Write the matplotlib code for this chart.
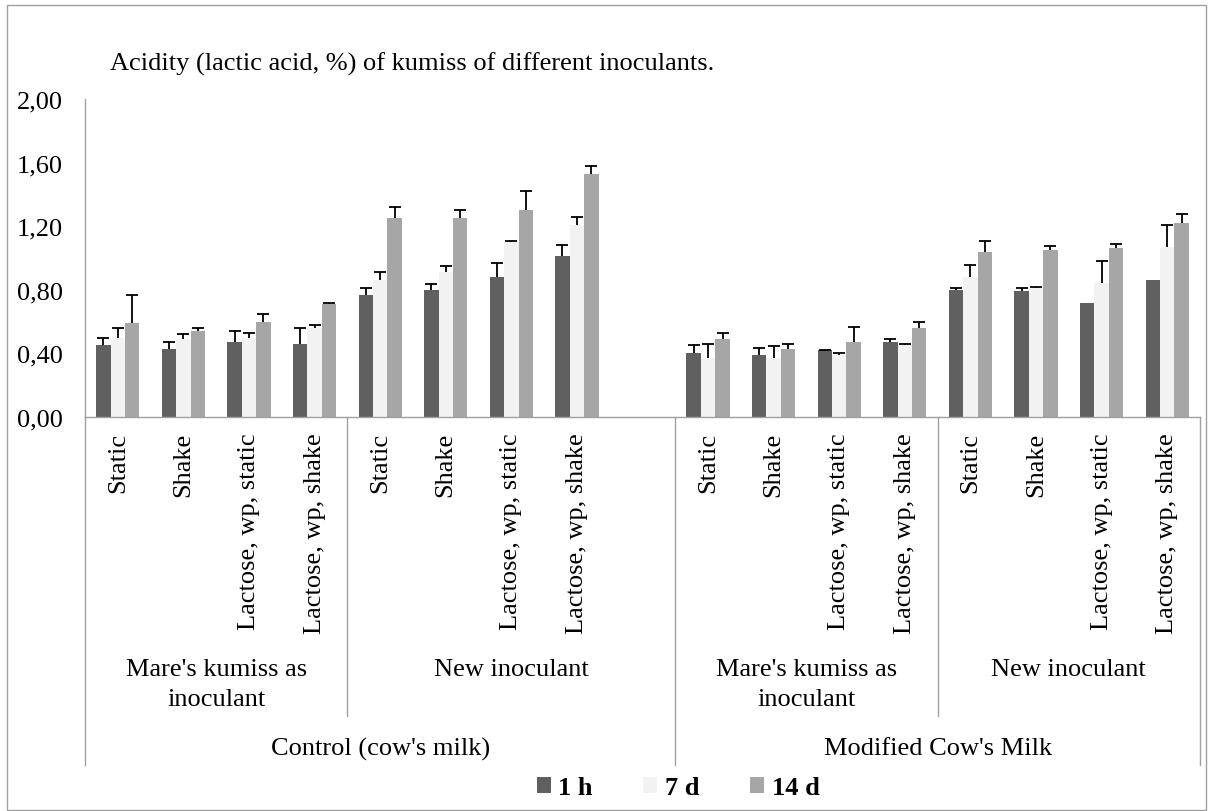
import numpy as np
import matplotlib
matplotlib.use("Agg")
import matplotlib.pyplot as plt
from matplotlib.transforms import blended_transform_factory
from matplotlib.patches import Rectangle, Patch

plt.rcParams['font.family'] = ['Liberation Serif', 'DejaVu Serif']

title = "Acidity (lactic acid, %) of kumiss of different inoculants."
treatments = ["Static", "Shake", "Lactose, wp, static", "Lactose, wp, shake"]
inoculants = ["Mare's kumiss as\ninoculant", "New inoculant"]
milks = ["Control (cow's milk)", "Modified Cow's Milk"]
series = ["1 h", "7 d", "14 d"]
colors = ["#606060", "#F2F2F2", "#A6A6A6"]
yticks = [0.0, 0.4, 0.8, 1.2, 1.6, 2.0]

# order: Control/Mare's (4), Control/New (4), Modified/Mare's (4), Modified/New (4)
acid_1h = [0.45, 0.43, 0.47, 0.46, 0.77, 0.80, 0.88, 1.01,
           0.40, 0.39, 0.42, 0.47, 0.80, 0.79, 0.72, 0.86]
acid_7d = [0.50, 0.49, 0.50, 0.56, 0.86, 0.91, 1.10, 1.21,
           0.37, 0.37, 0.39, 0.45, 0.88, 0.81, 0.84, 1.07]
acid_14d = [0.59, 0.54, 0.60, 0.71, 1.25, 1.25, 1.30, 1.53,
            0.49, 0.43, 0.47, 0.56, 1.04, 1.05, 1.06, 1.22]
err_1h = [0.05, 0.04, 0.07, 0.10, 0.04, 0.035, 0.09, 0.07,
          0.05, 0.045, 0.003, 0.02, 0.012, 0.02, None, None]
err_7d = [0.06, 0.03, 0.03, 0.02, 0.05, 0.04, 0.006, 0.05,
          0.09, 0.075, 0.015, 0.012, 0.075, 0.01, 0.14, 0.135]
err_14d = [0.18, 0.02, 0.05, 0.01, 0.07, 0.05, 0.12, 0.05,
           0.04, 0.03, 0.095, 0.04, 0.065, 0.025, 0.03, 0.055]

values = [acid_1h, acid_7d, acid_14d]
errors = [err_1h, err_7d, err_14d]

FS = 19
W, H = 1208, 812
fig = plt.figure(figsize=(W / 100, H / 100), dpi=100)
ax = fig.add_axes([85 / W, (H - 418) / H, (1200 - 85) / W, (418 - 100) / H])

# category positions: Control group has an empty slot after its New inoculant block
n_t = len(treatments)
positions = []
for m in range(len(milks)):
    for k in range(len(inoculants)):
        for t in range(n_t):
            positions.append(m * 9 + k * n_t + t)
positions = np.array(positions, dtype=float)
n_cat = 17

bw = 0.22
offs = [-bw, 0.0, bw]
for s in range(3):
    v = np.array(values[s], dtype=float)
    e = np.array([np.nan if x is None else x for x in errors[s]], dtype=float)
    ax.bar(positions + offs[s], v, width=bw, color=colors[s], edgecolor='none',
           label=series[s], zorder=2)
    eb = ax.errorbar(positions + offs[s], v, yerr=[np.zeros_like(e), e], fmt='none',
                     ecolor='black', elinewidth=1.3, capsize=4, capthick=1.3, zorder=3)
    eb[1][0].set_visible(False)

ax.set_xlim(-0.5, n_cat - 0.5)
ax.set_ylim(0, 2.0)
ax.set_yticks(yticks)
ax.set_yticklabels([f"{y:.2f}".replace('.', ',') for y in yticks], fontsize=FS)
ax.tick_params(axis='y', length=0, pad=16)
ax.set_xticks([])
for sp in ['top', 'right']:
    ax.spines[sp].set_visible(False)
for sp in ['left', 'bottom']:
    ax.spines[sp].set_color('#A0A0A0')
    ax.spines[sp].set_linewidth(1.0)

tr = blended_transform_factory(ax.transData, fig.transFigure)
gray = '#A0A0A0'
y_base = (H - 418) / H

# level-1 labels
for i, p in enumerate(positions):
    ax.text(p, (H - 433) / H, treatments[i % n_t], rotation=90, ha='center', va='top',
            fontsize=FS, transform=tr)

# level-2 and level-3 labels and separators
for m in range(len(milks)):
    start = m * 9 - 0.5
    end = (m * 9 + 8.5) if m == 0 else (m * 9 + 7.5)
    ax.text((start + end) / 2, (H - 749) / H, milks[m], ha='center', va='center',
            fontsize=FS, transform=tr)
    ax.plot([start, start], [y_base, (H - 766) / H], color=gray, lw=1.0,
            transform=tr, clip_on=False)
    for k in range(len(inoculants)):
        ks = m * 9 + k * n_t - 0.5
        ke = ks + n_t if (k == 0 or m == 1) else end
        ax.text((ks + ke) / 2, (H - 659) / H, inoculants[k], ha='center', va='top',
                fontsize=FS, linespacing=1.45, transform=tr)
        if k == 1:
            ax.plot([ks, ks], [y_base, (H - 717) / H], color=gray, lw=1.0,
                    transform=tr, clip_on=False)
ax.plot([n_cat - 0.5, n_cat - 0.5], [y_base, (H - 766) / H], color=gray, lw=1.0,
        transform=tr, clip_on=False)

fig.text(110 / W, (H - 64) / H, title, ha='left', va='center', fontsize=FS)

handles = [Patch(facecolor=c, edgecolor='none') for c in colors]
fig.legend(handles, series, loc='center', bbox_to_anchor=(678 / W, (H - 789) / H),
           ncol=3, frameon=False, prop={'weight': 'bold', 'size': FS},
           handlelength=0.53, handleheight=0.53, handletextpad=0.3, columnspacing=1.9)

fig.add_artist(Rectangle((7 / W, 1 / H), (1206 - 7) / W, (H - 7) / H,
                         transform=fig.transFigure, fill=False, edgecolor='#A0A0A0',
                         lw=1.0))

fig.savefig("out.png", dpi=100)
